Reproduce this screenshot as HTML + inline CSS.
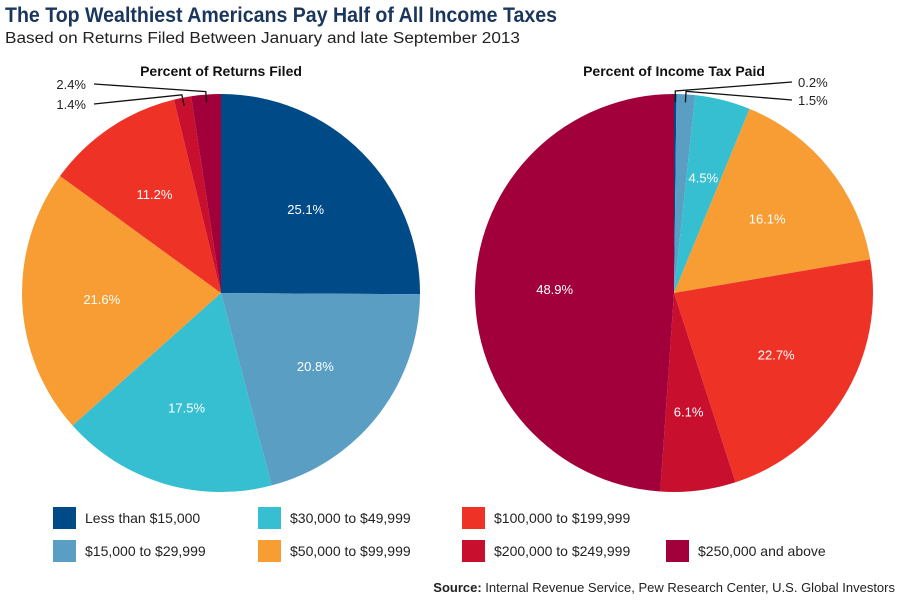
<!DOCTYPE html>
<html><head><meta charset="utf-8"><style>
html,body{margin:0;padding:0;background:#fff;}
body{width:900px;height:600px;overflow:hidden;font-family:"Liberation Sans",sans-serif;}
</style></head><body>
<svg id="chart" width="900" height="600" xmlns="http://www.w3.org/2000/svg">
<text x="5" y="22" font-size="21" font-weight="bold" fill="#1b365d" textLength="552" lengthAdjust="spacingAndGlyphs">The Top Wealthiest Americans Pay Half of All Income Taxes</text>
<text x="5" y="43" font-size="15.5" fill="#222" textLength="515" lengthAdjust="spacingAndGlyphs">Based on Returns Filed Between January and late September 2013</text>
<text x="221" y="76" font-size="14" font-weight="bold" text-anchor="middle" fill="#111">Percent of Returns Filed</text>
<text x="674" y="76" font-size="14" font-weight="bold" text-anchor="middle" fill="#111">Percent of Income Tax Paid</text>
<g id="pies"></g>
<g id="legend"></g>
<text x="895" y="592" font-size="13" text-anchor="end" fill="#222"><tspan font-weight="bold">Source:</tspan> Internal Revenue Service, Pew Research Center, U.S. Global Investors</text>
</svg>
<script>
const categories = ["Less than $15,000","$15,000 to $29,999","$30,000 to $49,999","$50,000 to $99,999","$100,000 to $199,999","$200,000 to $249,999","$250,000 and above"];
const colors = ["#004b87","#5a9ec4","#36bfd0","#f79d34","#ee3226","#c8102e","#a1003a"];
const returnsFiled = [25.1,20.8,17.5,21.6,11.2,1.4,2.4];
const taxPaid = [0.2,1.5,4.5,16.1,22.7,6.1,48.9];
const NS="http://www.w3.org/2000/svg";
const pies=document.getElementById('pies');
function mk(tag,attrs,parent){const e=document.createElementNS(NS,tag);for(const k in attrs)e.setAttribute(k,attrs[k]);parent.appendChild(e);return e;}
function pt(cx,cy,r,frac){const a=frac*2*Math.PI;return [cx+r*Math.sin(a),cy-r*Math.cos(a)];}
function drawPie(vals,cx,cy,r,name,outside){
  const total=vals.reduce((a,b)=>a+b,0);
  let acc=0;
  vals.forEach((v,i)=>{
    const f0=acc/total,f1=(acc+v)/total;acc+=v;
    const p0=pt(cx,cy,r,f0),p1=pt(cx,cy,r,f1);
    const large=(f1-f0)>0.5?1:0;
    const path=mk('path',{d:`M${cx},${cy}L${p0[0]},${p0[1]}A${r},${r} 0 ${large} 1 ${p1[0]},${p1[1]}Z`,fill:colors[i]},pies);
    
    
    const fm=(f0+f1)/2;
    if(outside[i]){
      const o=outside[i];
      const a=pt(cx,cy,r-8,fm),b=pt(cx,cy,r+3,fm);
      const ln=mk('polyline',{points:`${a[0]},${a[1]} ${b[0]},${b[1]} ${o.lx},${o.ly}`,fill:'none',stroke:'#111','stroke-width':1.3},pies);
      
      
      const t=mk('text',{x:o.tx,y:o.ty,'font-size':13,fill:'#222','text-anchor':o.anchor},pies);
      t.textContent=v.toFixed(1)+'%';
      
      
    } else {
      const c=pt(cx,cy,r*0.6,fm);
      const t=mk('text',{x:c[0],y:c[1]+5,'font-size':13,fill:'#fff','text-anchor':'middle'},pies);
      t.textContent=v.toFixed(1)+'%';
      
      
    }
  });
}
drawPie(returnsFiled,221,293,199,'returns-pie',{5:{lx:94,ly:104,tx:86,ty:109,anchor:'end'},6:{lx:94,ly:84,tx:86,ty:89,anchor:'end'}});
drawPie(taxPaid,674,293,199,'tax-pie',{0:{lx:792,ly:82,tx:798,ty:87,anchor:'start'},1:{lx:792,ly:100,tx:798,ty:105,anchor:'start'}});
const lg=document.getElementById('legend');
const ly=[507,540];
const legCol=[0,0,1,1,2,2,3], legRow=[0,1,0,1,0,1,1], colX=[53,258,462,666];
categories.forEach((c,i)=>{
  const x=colX[legCol[i]], y=ly[legRow[i]];
  const g=mk('g',{},lg);
  
  
  mk('rect',{x:x,y:y,width:23,height:22,fill:colors[i]},g);
  const t=mk('text',{x:x+32,y:y+16,'font-size':14,fill:'#222'},g);
  t.textContent=c;
});
</script>
</body></html>
